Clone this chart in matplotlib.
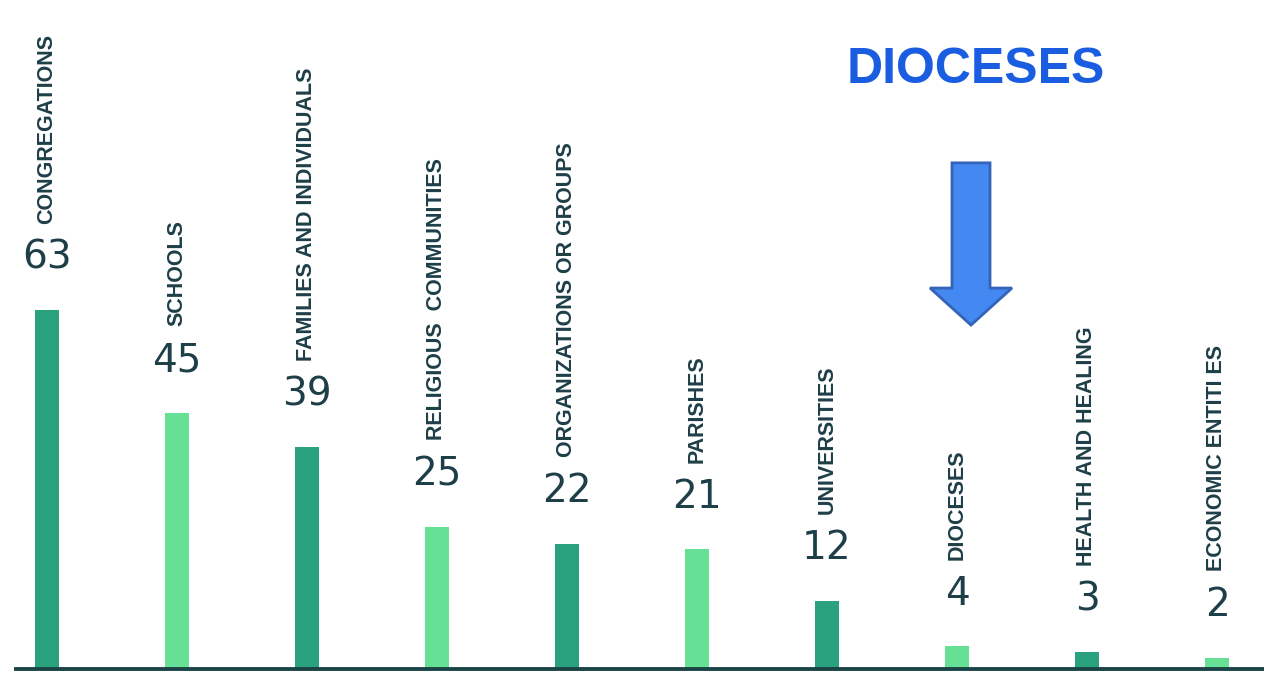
import matplotlib
matplotlib.use("Agg")
import matplotlib.pyplot as plt
import matplotlib.patches as mpatches

categories = ["CONGREGATIONS", "SCHOOLS", "FAMILIES AND INDIVIDUALS",
              "RELIGIOUS  COMMUNITIES", "ORGANIZATIONS OR GROUPS", "PARISHES",
              "UNIVERSITIES", "DIOCESES", "HEALTH AND HEALING", "ECONOMIC ENTITI ES"]
counts = [63, 45, 39, 25, 22, 21, 12, 4, 3, 2]
highlight = "DIOCESES"

dark_green = "#2aa27f"
light_green = "#66e095"
text_col = "#1e3f48"

W, H = 1264, 673
fig = plt.figure(figsize=(W / 100, H / 100), dpi=100)
ax = fig.add_axes([0, 0, 1, 1])

# pixel mapping: first bar at 47px, 130px step, baseline 4px above bottom
step = 130.0
px_unit = 5.7
ax.set_xlim(-47 / step, (W - 47) / step)
ax.set_ylim(-4 / px_unit, (H - 4) / px_unit)
ax.axis("off")

x = list(range(len(categories)))
colors = [dark_green if i % 2 == 0 else light_green for i in x]
ax.bar(x, counts, width=24 / step, color=colors, zorder=2)

# baseline
ax.axhline(0, xmin=16 / W, xmax=1, color="#1b4446", lw=2.8, zorder=3)

for i, (cat, v) in enumerate(zip(categories, counts)):
    ax.annotate(str(v), (i, v), xytext=(0, 24), textcoords="offset points",
                ha="center", va="bottom", fontsize=28, color=text_col,
                family="DejaVu Sans")
    ax.annotate(cat, (i, v), xytext=(0, 62), textcoords="offset points",
                ha="center", va="bottom", rotation=90, fontsize=15.5,
                fontweight="bold", color=text_col, family="Liberation Sans")

# arrow pointing at the highlighted bar
hi = categories.index(highlight)
arrow = mpatches.FancyArrow(hi + 14 / step, 0.758, 0, -0.241,
                            width=38 / step, head_width=82 / step,
                            head_length=0.055, length_includes_head=True,
                            transform=ax.get_xaxis_transform(),
                            fc="#4488f2", ec="#3463b8", lw=2, zorder=4)
ax.add_patch(arrow)

ax.text(976 / W, 1 - 70 / H, highlight, transform=ax.transAxes,
        ha="center", va="center", fontsize=36, fontweight="bold",
        color="#1a5de0", family="Liberation Sans")

fig.savefig("out.png", dpi=100)
